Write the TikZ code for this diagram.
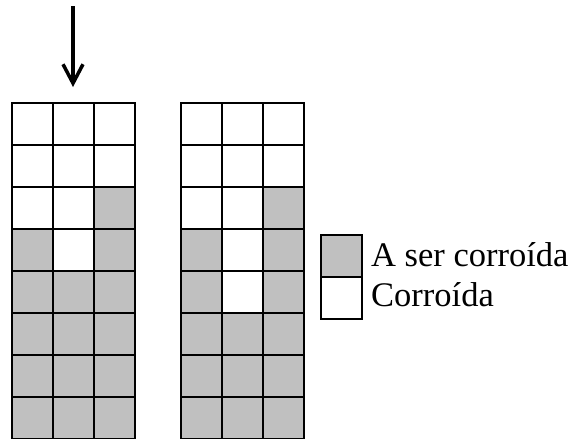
\documentclass[tikz,border=0pt]{standalone}
\usepackage{fontspec}
\setmainfont{Liberation Serif}
\usetikzlibrary{arrows.meta}
\definecolor{corrgray}{RGB}{192,192,192}
\begin{document}
\begin{tikzpicture}[x=1pt,y=-1pt,
  cellw/.style={draw=black,line width=1.3pt,fill=white},
  cellg/.style={draw=black,line width=1.3pt,fill=corrgray},
  legtext/.style={anchor=base west,inner sep=0pt,font=\fontsize{34.5}{40}\selectfont},
  arr/.style={line width=4pt,-{Straight Barb[length=19pt,width=20pt,line width=3.5pt]}}]
\useasboundingbox (0,0) rectangle (573,439);
% left grid
\foreach \r in {1,...,8}{
  \foreach \c in {1,2,3}{
    \draw[cellw] ({12+41*(\c-1)},{103+42*(\r-1)}) rectangle ++(41,42);
  }
}
\foreach \c/\r in {3/3,1/4,3/4,1/5,2/5,3/5,1/6,2/6,3/6,1/7,2/7,3/7,1/8,2/8,3/8}{
  \draw[cellg] ({12+41*(\c-1)},{103+42*(\r-1)}) rectangle ++(41,42);
}
% right grid
\foreach \r in {1,...,8}{
  \foreach \c in {1,2,3}{
    \draw[cellw] ({181+41*(\c-1)},{103+42*(\r-1)}) rectangle ++(41,42);
  }
}
\foreach \c/\r in {3/3,1/4,3/4,1/5,3/5,1/6,2/6,3/6,1/7,2/7,3/7,1/8,2/8,3/8}{
  \draw[cellg] ({181+41*(\c-1)},{103+42*(\r-1)}) rectangle ++(41,42);
}
% arrow
\coordinate (atop) at (73,6);
\coordinate (atip) at (73,87);
\draw[arr] (atop) -- (atip);
% legend
\draw[cellg] (321,235) rectangle (362,277);
\draw[cellw] (321,277) rectangle (362,319);
\node[legtext] (l1) at (371,266) {A ser corroída};
\node[legtext] (l2) at (371,306) {Corroída};
\end{tikzpicture}
\end{document}
